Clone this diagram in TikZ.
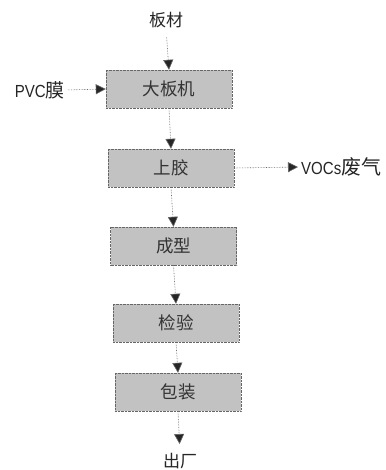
\documentclass[tikz,border=0pt]{standalone}
\usepackage{fontspec}
\setmainfont{Liberation Sans}
\newfontfamily\narrowsans[FakeStretch=0.86]{Liberation Sans}
\newfontfamily\cjk{Noto Sans CJK SC}
\usetikzlibrary{arrows.meta}
\begin{document}
\begin{tikzpicture}[x=1pt,y=-1pt,
  procbox/.style={draw=black!60, densely dotted, fill=black!24, minimum width=126pt, minimum height=38pt, inner sep=0pt, font=\cjk\fontsize{17.5}{17.5}\selectfont, text=black!80},
  lbl/.style={font=\narrowsans\fontsize{17.5}{18}\selectfont, text=black!85, inner sep=1pt},
  cjklbl/.style={font=\cjk\fontsize{17}{17}\selectfont, text=black!85, inner sep=1pt},
  flow/.style={draw=black!60, line width=0.6pt, densely dotted, -{Triangle[length=10pt,width=10pt,fill=black!85]}}]
\useasboundingbox (0,0) rectangle (385,470);
\fill[white] (0,0) rectangle (385,470);
\node[procbox] (b1) at (169,89) {大板机};
\node[procbox] (b2) at (171,168) {上胶};
\node[procbox] (b3) at (173.5,246) {成型};
\node[procbox] (b4) at (176,323) {检验};
\node[procbox] (b5) at (178,392) {包装};
\node[cjklbl] (in1) at (166,20) {板材};
\node[cjklbl] (out) at (180,461) {出厂};
\node[lbl, anchor=east] (pvc) at (66,90) {PVC{\cjk\fontsize{19}{19}\selectfont 膜}};
\node[lbl, anchor=west] (voc) at (300,167) {VOCs{\cjk\fontsize{20}{20}\selectfont 废气}};
\draw[flow, shorten <=8pt] (in1.south) -- (b1.north);
\draw[flow, shorten <=2pt] (pvc.east) -- (b1.west);
\draw[flow] (b1.south) -- (b2.north);
\draw[flow, shorten >=2pt] (b2.east) -- (voc.west);
\draw[flow] (b2.south) -- (b3.north);
\draw[flow] (b3.south) -- (b4.north);
\draw[flow] (b4.south) -- (b5.north);
\draw[flow, shorten >=8pt] (b5.south) -- (out.north);
\end{tikzpicture}
\end{document}
